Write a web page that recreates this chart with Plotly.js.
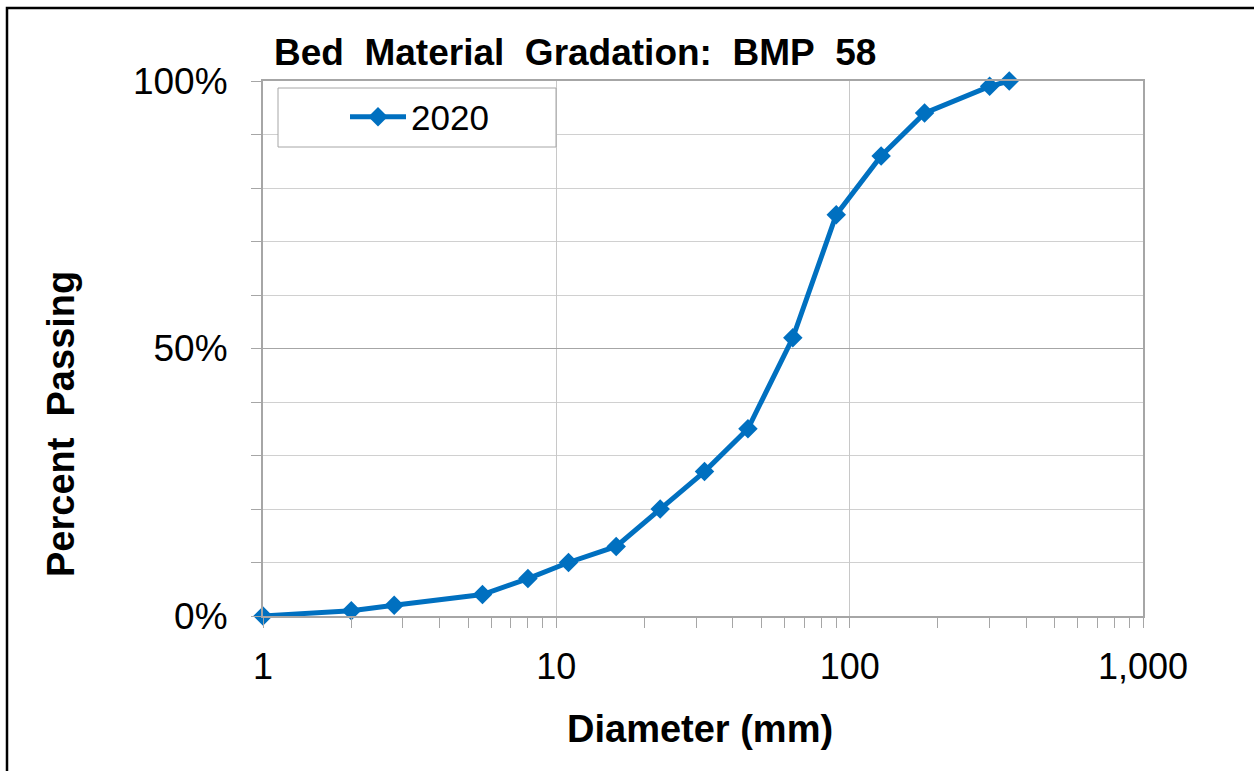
<!DOCTYPE html>
<html>
<head>
<meta charset="utf-8">
<script src="https://cdn.plot.ly/plotly-3.0.1.min.js"></script>
<style>
  html, body { margin: 0; padding: 0; background: #ffffff; }
  #chart { width: 1254px; height: 771px; }
</style>
</head>
<body>
<div id="chart"></div>
<script>
// Data
const diameterMm = [1, 2, 2.8, 5.6, 8, 11, 16, 22.6, 32, 45, 64, 90, 128, 180, 300, 350];
const percentPassing = [0, 1, 2, 4, 7, 10, 13, 20, 27, 35, 52, 75, 86, 94, 99, 100];
const seriesName = '2020';

const xTickVals = [1, 10, 100, 1000];
const xTickText = ['1', '10', '100', '1,000'];
const xMinorVals = [2,3,4,5,6,7,8,9,20,30,40,50,60,70,80,90,200,300,400,500,600,700,800,900];
const yTickVals = [0, 50, 100];
const yTickText = ['0%', '50%', '100%'];

const W = 1254, H = 771;
const L = 263, R = 1143, T = 81, B = 616;
const px2x = p => (p - L) / (R - L);
const py2y = p => (B - p) / (B - T);

const blue = '#0070C0';
const font = 'Arial, "Liberation Sans", sans-serif';

const trace = {
  x: diameterMm,
  y: percentPassing,
  name: seriesName,
  type: 'scatter',
  mode: 'lines+markers',
  line: { color: blue, width: 5 },
  marker: { symbol: 'diamond', size: 15, color: blue },
  cliponaxis: false
};

const layout = {
  width: W, height: H,
  margin: { l: L, r: W - R, t: T, b: H - B, pad: 0 },
  paper_bgcolor: '#ffffff',
  plot_bgcolor: '#ffffff',
  font: { family: font, color: '#000000' },
  title: {
    text: '<b>Bed\u00A0 Material\u00A0 Gradation:\u00A0 BMP\u00A0 58</b>',
    font: { family: font, size: 37, color: '#000000' },
    xref: 'container', yref: 'container',
    x: 274 / W, xanchor: 'left',
    y: 1 - 52 / H, yanchor: 'middle'
  },
  showlegend: true,
  legend: {
    x: px2x(345), y: py2y(117), xanchor: 'left', yanchor: 'middle',
    bgcolor: 'rgba(0,0,0,0)', borderwidth: 0,
    font: { family: font, size: 35, color: '#000000' },
    itemwidth: 56
  },
  xaxis: {
    type: 'log',
    range: [0, 3],
    tickmode: 'array',
    tickvals: xTickVals,
    ticktext: xTickText,
    ticks: 'outside', ticklen: 10, tickwidth: 1, tickcolor: '#a6a6a6',
    tickfont: { family: font, size: 36, color: '#000000' },
    ticklabelstandoff: 8,
    showgrid: true, gridcolor: '#c8c8c8', gridwidth: 1,
    minor: { tickvals: xMinorVals, ticks: 'outside', ticklen: 10, tickcolor: '#a6a6a6', tickwidth: 1, showgrid: false },
    showline: true, linecolor: '#a6a6a6', linewidth: 2, mirror: true,
    zeroline: false, fixedrange: true
  },
  yaxis: {
    range: [0, 100],
    tickmode: 'array',
    tickvals: yTickVals,
    ticktext: yTickText,
    ticks: 'outside', ticklen: 10, tickwidth: 1, tickcolor: '#a6a6a6',
    tickfont: { family: font, size: 37, color: '#000000' },
    ticklabelstandoff: 16,
    showgrid: true, gridcolor: '#a6a6a6', gridwidth: 1,
    minor: { dtick: 10, ticks: 'outside', ticklen: 10, tickcolor: '#a6a6a6', tickwidth: 1, showgrid: true, gridcolor: '#d0d0d0', gridwidth: 1 },
    showline: true, linecolor: '#a6a6a6', linewidth: 2, mirror: true,
    zeroline: false, fixedrange: true
  },
  annotations: [
    {
      text: '<b>Percent\u00A0 Passing</b>',
      textangle: -90,
      xref: 'paper', yref: 'paper',
      x: px2x(61), y: py2y(424),
      xanchor: 'center', yanchor: 'middle',
      showarrow: false,
      font: { family: font, size: 38, color: '#000000' }
    },
    {
      text: '<b>Diameter (mm)</b>',
      xref: 'paper', yref: 'paper',
      x: px2x(700), y: py2y(729),
      xanchor: 'center', yanchor: 'middle',
      showarrow: false,
      font: { family: font, size: 38, color: '#000000' }
    }
  ],
  shapes: [
    {
      type: 'rect', xref: 'paper', yref: 'paper',
      x0: px2x(278), x1: px2x(556), y0: py2y(147), y1: py2y(88),
      fillcolor: '#ffffff', line: { color: '#a6a6a6', width: 1 }, layer: 'above'
    },
    {
      type: 'path', xref: 'paper', yref: 'paper',
      path: 'M ' + px2x(7) + ' ' + py2y(780) + ' L ' + px2x(7) + ' ' + py2y(8) + ' L ' + px2x(1265) + ' ' + py2y(8),
      line: { color: '#000000', width: 2.5 }, layer: 'above'
    }
  ]
};

Plotly.newPlot('chart', [trace], layout, { displayModeBar: false, staticPlot: true });
</script>
</body>
</html>
